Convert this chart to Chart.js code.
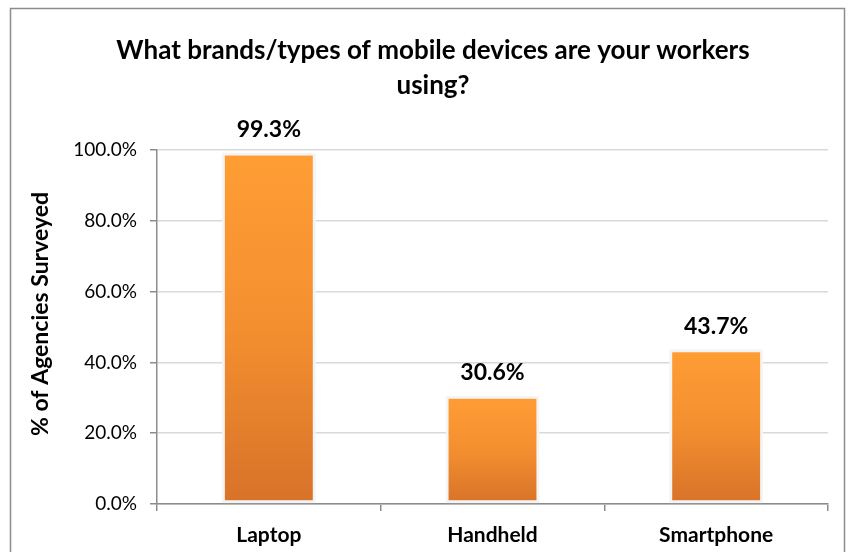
<!DOCTYPE html>
<html>
<head>
<meta charset="utf-8">
<script src="https://cdn.jsdelivr.net/npm/chart.js@4.4.0/dist/chart.umd.min.js"></script>
<style>
  html, body { margin: 0; padding: 0; background: #fff; }
  #wrap { width: 851px; height: 552px; position: relative; }
</style>
</head>
<body>
<div id="wrap"><canvas id="myChart"></canvas></div>
<script>
// chart data
const categories = ["Laptop", "Handheld", "Smartphone"];
const values = [99.3, 30.6, 43.7];
const titleLines = ["What brands/types of mobile devices are your workers", "using?"];
const yAxisTitle = "% of Agencies Surveyed";

const FONT = "Lato, 'Open Sans', sans-serif";

// outer frame, chart title and y axis title
const framePlugin = {
    id: "frame",
    beforeDraw(chart) {
        const ctx = chart.ctx;
        ctx.save();
        ctx.strokeStyle = "#8c8c8c";
        ctx.lineWidth = 1.5;
        ctx.strokeRect(10.5, 8.5, 834, 560);
        ctx.fillStyle = "#000";
        ctx.font = "bold 26px " + FONT;
        ctx.textAlign = "center";
        ctx.textBaseline = "middle";
        ctx.fillText(titleLines[0], 433, 51);
        ctx.fillText(titleLines[1], 433, 86);

        // rotated axis title
        ctx.translate(41, 314);
        ctx.rotate(-Math.PI / 2);
        ctx.font = "bold 23px " + FONT;
        ctx.fillText(yAxisTitle, 0, 0);
        ctx.restore();
    },
};

// value labels above bars
const labelPlugin = {
    id: "valueLabels",
    afterDatasetsDraw(chart) {
        const ctx = chart.ctx;
        const meta = chart.getDatasetMeta(0);
        ctx.save();
        ctx.fillStyle = "#000";
        ctx.font = "bold 23px " + FONT;
        ctx.textAlign = "center";
        ctx.textBaseline = "middle";
        meta.data.forEach((bar, i) => {
            ctx.fillText(values[i].toFixed(1) + "%", bar.x, bar.y - 23);
        });
        ctx.restore();
    },
};

const barGradient = (context) => {
    const chart = context.chart;
    const y = chart.scales.y;
    if (!y || !chart.chartArea) return "#f7922f";
    const v = values[context.dataIndex];
    const top = y.getPixelForValue(v);
    const bottom = y.getPixelForValue(0);
    const g = chart.ctx.createLinearGradient(0, top, 0, bottom);
    g.addColorStop(0, "#ff9d34");
    g.addColorStop(0.5, "#f48f30");
    g.addColorStop(1, "#d77229");
    return g;
};

const ctx = document.getElementById("myChart").getContext("2d");
const myChart = new Chart(ctx, {
    type: "bar",
    data: {
        labels: categories,
        datasets: [
            {
                data: values,
                backgroundColor: barGradient,
                borderColor: "#f4f4f4",
                borderWidth: 3,
                borderSkipped: false,
                barPercentage: 0.42,
                categoryPercentage: 1,
            },
        ],
    },
    options: {
        responsive: true,
        maintainAspectRatio: false,
        animation: false,
        layout: {
            padding: { left: 0, right: 23, top: 150, bottom: 0 },
        },
        plugins: {
            legend: { display: false },
            tooltip: { enabled: false },
            title: { display: false },
        },
        scales: {
            x: {
                afterFit: (scale) => { scale.height = 48; },
                grid: {
                    offset: true,
                    drawOnChartArea: false,
                    color: "#8c8c8c",
                    tickLength: 7,
                    lineWidth: 1.5,
                },
                border: { color: "#8c8c8c", width: 1.5 },
                ticks: {
                    color: "#000",
                    font: { family: FONT, size: 21, weight: "bold" },
                    padding: 12,
                },
            },
            y: {
                min: 0,
                max: 100,
                afterFit: (scale) => { scale.width = 157; },
                ticks: {
                    stepSize: 20,
                    color: "#000",
                    font: { family: FONT, size: 19 },
                    padding: 13,
                    callback: (v) => v.toFixed(1) + "%",
                },
                grid: {
                    color: "#d9d9d9",
                    tickColor: "#8c8c8c",
                    tickLength: 7,
                    lineWidth: 1.5,
                },
                border: { color: "#8c8c8c", width: 1.5 },
            },
        },
    },
    plugins: [framePlugin, labelPlugin],
});
</script>
</body>
</html>
